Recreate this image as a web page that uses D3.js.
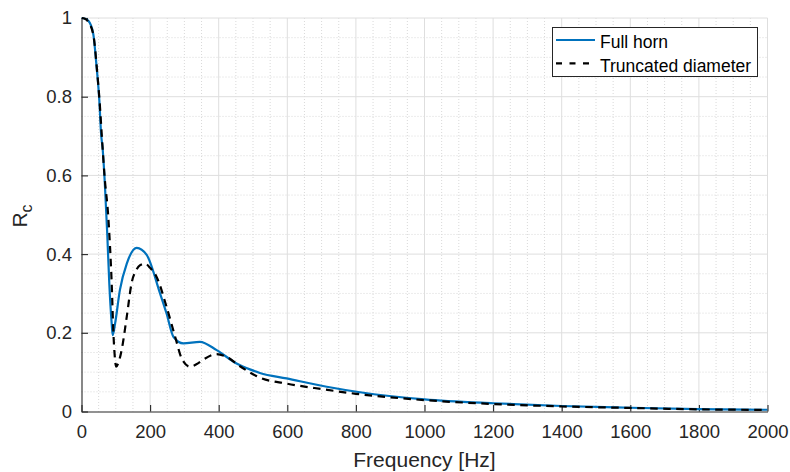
<!DOCTYPE html>
<html>
<head>
<meta charset="utf-8">
<script src="https://cdn.jsdelivr.net/npm/d3@7"></script>
<style>
  body { margin: 0; background: #fff; }
  svg { display: block; font-family: "Liberation Sans", Arial, Helvetica, sans-serif; }
</style>
</head>
<body>
<div id="vis"></div>
<script>
// values
var fullFreq = [0, 10, 20, 34, 44, 52, 57, 62, 68, 75, 81, 88, 91, 98, 112, 132, 161, 190, 229, 248, 268, 297, 345, 394, 452, 491, 520, 598, 715, 812, 1000, 1200, 1400, 1600, 1800, 2000];
var fullRc   = [1.0, 0.998, 0.993, 0.961, 0.876, 0.79, 0.707, 0.664, 0.58, 0.453, 0.326, 0.224, 0.194, 0.224, 0.309, 0.376, 0.416, 0.398, 0.30, 0.249, 0.19, 0.173, 0.177, 0.156, 0.122, 0.107, 0.098, 0.084, 0.063, 0.049, 0.031, 0.021, 0.014, 0.0095, 0.006, 0.0044];

var truncFreq = [0, 10, 20, 35, 45, 53, 60, 67, 78, 88, 93, 97, 101, 108, 117, 132, 146, 160, 171, 185, 200, 219, 248, 273, 292, 316, 335, 355, 394, 423, 462, 520, 598, 700, 800, 1000, 1200, 1400, 1600, 1800, 2000];
var truncRc   = [1.0, 0.998, 0.99, 0.955, 0.87, 0.785, 0.69, 0.6, 0.495, 0.326, 0.2, 0.14, 0.114, 0.125, 0.156, 0.241, 0.326, 0.36, 0.372, 0.376, 0.365, 0.342, 0.266, 0.19, 0.135, 0.114, 0.12, 0.132, 0.146, 0.139, 0.115, 0.086, 0.071, 0.057, 0.045, 0.029, 0.019, 0.013, 0.009, 0.0055, 0.004];

var xTicks = [0, 200, 400, 600, 800, 1000, 1200, 1400, 1600, 1800, 2000];
var yTicks = [0, 0.2, 0.4, 0.6, 0.8, 1];
var seriesNames = ['Full horn', 'Truncated diameter'];

function drawChart() {
    var width = 790;
    var height = 472;
    var pLeft = 81.5, pRight = 767.5, pTop = 18, pBottom = 411.5;
    var axisColor = '#262626';

    var x = d3.scaleLinear().domain([0, 2000]).range([pLeft, pRight]);
    var y = d3.scaleLinear().domain([0, 1]).range([pBottom, pTop]);

    var svg = d3.select('#vis').append('svg')
        .attr('width', width)
        .attr('height', height);

    svg.append('defs').append('clipPath').attr('id', 'plotclip')
        .append('rect')
        .attr('x', pLeft).attr('y', pTop - 2)
        .attr('width', pRight - pLeft).attr('height', pBottom - pTop + 2);

    // minor grid
    var grid = svg.append('g');
    grid.selectAll('.xminor')
        .data(d3.range(50, 2000, 50).filter(function (d) { return d % 200 !== 0; }))
        .enter().append('line')
        .attr('x1', function (d) { return x(d); })
        .attr('x2', function (d) { return x(d); })
        .attr('y1', pTop).attr('y2', pBottom)
        .attr('stroke', '#d9d9d9')
        .attr('stroke-dasharray', '1,2');
    grid.selectAll('.yminor')
        .data(d3.range(1, 20).filter(function (d) { return d % 4 !== 0; }).map(function (d) { return d * 0.05; }))
        .enter().append('line')
        .attr('y1', function (d) { return y(d); })
        .attr('y2', function (d) { return y(d); })
        .attr('x1', pLeft).attr('x2', pRight)
        .attr('stroke', '#d9d9d9')
        .attr('stroke-dasharray', '1,2');

    // major grid
    grid.selectAll('.xmajor')
        .data(xTicks.slice(1))
        .enter().append('line')
        .attr('x1', function (d) { return x(d); })
        .attr('x2', function (d) { return x(d); })
        .attr('y1', pTop).attr('y2', pBottom)
        .attr('stroke', '#dedede');
    grid.selectAll('.ymajor')
        .data(yTicks.slice(1))
        .enter().append('line')
        .attr('y1', function (d) { return y(d); })
        .attr('y2', function (d) { return y(d); })
        .attr('x1', pLeft).attr('x2', pRight)
        .attr('stroke', '#dedede');

    // axes
    var xAxis = d3.axisBottom(x)
        .tickValues(xTicks)
        .tickFormat(d3.format('d'))
        .tickSizeInner(-6.5)
        .tickSizeOuter(0)
        .tickPadding(13);
    var yAxis = d3.axisLeft(y)
        .tickValues(yTicks)
        .tickFormat(function (d) { return d === 0 || d === 1 ? d3.format('d')(d) : d3.format('.1f')(d); })
        .tickSizeInner(-6.5)
        .tickSizeOuter(0)
        .tickPadding(9.5);

    var gx = svg.append('g')
        .attr('transform', 'translate(0,' + pBottom + ')')
        .call(xAxis);
    var gy = svg.append('g')
        .attr('transform', 'translate(' + pLeft + ',0)')
        .call(yAxis);

    [gx, gy].forEach(function (g) {
        g.select('.domain').attr('stroke', axisColor).attr('stroke-width', 1.1);
        g.selectAll('.tick line').attr('stroke', axisColor).attr('stroke-width', 1.1);
        g.selectAll('.tick text')
            .attr('fill', axisColor)
            .style('font-size', '18.5px')
            .style('font-family', '"Liberation Sans", Arial, sans-serif');
    });

    // curves
    var line = d3.line()
        .x(function (d) { return x(d[0]); })
        .y(function (d) { return y(d[1]); })
        .curve(d3.curveMonotoneX);

    var fullData = d3.zip(fullFreq, fullRc);
    var truncData = d3.zip(truncFreq, truncRc);

    var plot = svg.append('g').attr('clip-path', 'url(#plotclip)');
    plot.append('path')
        .datum(fullData)
        .attr('d', line)
        .attr('fill', 'none')
        .attr('stroke', '#0072BD')
        .attr('stroke-width', 2.2);
    plot.append('path')
        .datum(truncData)
        .attr('d', line)
        .attr('fill', 'none')
        .attr('stroke', '#000000')
        .attr('stroke-width', 2.2)
        .attr('stroke-dasharray', '7.5,5.5');

    // labels
    svg.append('text')
        .attr('x', (pLeft + pRight) / 2)
        .attr('y', 467)
        .attr('text-anchor', 'middle')
        .attr('fill', axisColor)
        .style('font-size', '21px')
        .text('Frequency [Hz]');

    var ylab = svg.append('text')
        .attr('transform', 'translate(27,216) rotate(-90)')
        .attr('text-anchor', 'middle')
        .attr('fill', axisColor)
        .style('font-size', '21px');
    ylab.append('tspan').text('R');
    ylab.append('tspan').attr('dy', '0.3em').style('font-size', '16px').text('c');

    // legend
    var legend = svg.append('g');
    legend.append('rect')
        .attr('x', 552.5).attr('y', 27.5)
        .attr('width', 205).attr('height', 49)
        .attr('fill', '#fff')
        .attr('stroke', axisColor)
        .attr('stroke-width', 1);

    var legendItems = legend.selectAll('.item')
        .data(seriesNames)
        .enter().append('g')
        .attr('transform', function (d, i) { return 'translate(556,' + (40 + i * 23.3) + ')'; });

    legendItems.append('line')
        .attr('x1', 0).attr('x2', 39)
        .attr('stroke', function (d, i) { return i === 0 ? '#0072BD' : '#000'; })
        .attr('stroke-width', 2.2)
        .attr('stroke-dasharray', function (d, i) { return i === 0 ? null : '6,7.5'; });

    legendItems.append('text')
        .attr('x', 44)
        .attr('y', 8.3)
        .attr('fill', '#000')
        .style('font-size', '17.5px')
        .text(function (d) { return d; });
}

drawChart();
</script>
</body>
</html>
